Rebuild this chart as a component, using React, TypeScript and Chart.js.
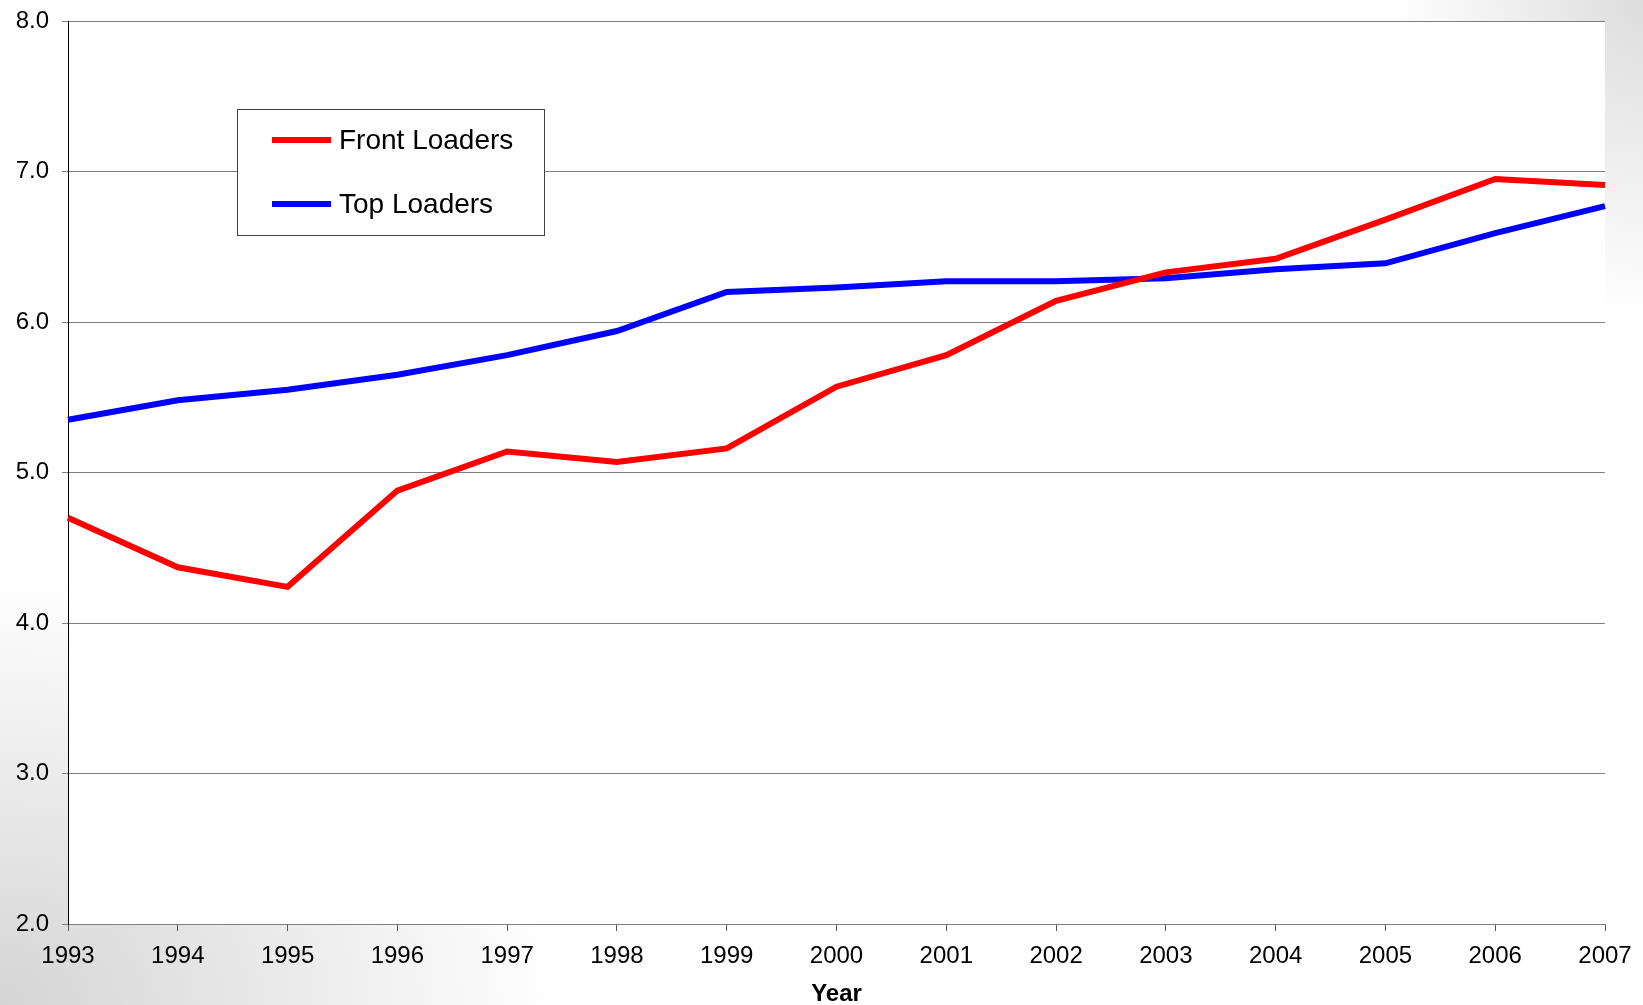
import React, { useEffect, useRef } from "react";
import { Chart, registerables } from "chart.js";

Chart.register(...registerables);

const years = ["1993", "1994", "1995", "1996", "1997", "1998", "1999", "2000", "2001", "2002", "2003", "2004", "2005", "2006", "2007"];
const frontLoaders = [4.70, 4.37, 4.24, 4.88, 5.14, 5.07, 5.16, 5.57, 5.78, 6.14, 6.33, 6.42, 6.68, 6.95, 6.91];
const topLoaders = [5.35, 5.48, 5.55, 5.65, 5.78, 5.94, 6.20, 6.23, 6.27, 6.27, 6.29, 6.35, 6.39, 6.59, 6.77];
const seriesNames = ["Front Loaders", "Top Loaders"];
const seriesColors = ["#ff0000", "#0000ff"];
const yMin = 2;
const yMax = 8;
const axisTitle = "Year";

const FONT = "'Liberation Sans', Arial, sans-serif";

const plotBackground = {
  id: "plotBackground",
  beforeDraw(chart: any) {
    const { ctx, chartArea } = chart;
    ctx.save();
    ctx.fillStyle = "#ffffff";
    ctx.fillRect(chartArea.left, chartArea.top, chartArea.right - chartArea.left, chartArea.bottom - chartArea.top);
    ctx.restore();
  },
};

const boxLegend = {
  id: "boxLegend",
  afterDraw(chart: any) {
    const { ctx } = chart;
    const bx = 237.5, by = 109.5, bw = 307, bh = 126;
    ctx.save();
    ctx.fillStyle = "#ffffff";
    ctx.fillRect(bx, by, bw, bh);
    ctx.strokeStyle = "#404040";
    ctx.lineWidth = 1;
    ctx.strokeRect(bx, by, bw, bh);
    ctx.font = `28px ${FONT}`;
    ctx.textBaseline = "middle";
    ctx.textAlign = "left";
    chart.data.datasets.forEach((ds: any, i: number) => {
      const y = 140 + i * 64;
      ctx.strokeStyle = ds.borderColor;
      ctx.lineWidth = 6;
      ctx.beginPath();
      ctx.moveTo(272, y);
      ctx.lineTo(331, y);
      ctx.stroke();
      ctx.fillStyle = "#000000";
      ctx.fillText(ds.label, 339, y + 1);
    });
    ctx.restore();
  },
};

export default function App() {
  const ref = useRef<HTMLCanvasElement | null>(null);

  useEffect(() => {
    document.body.style.margin = "0";
    const canvas = ref.current;
    if (!canvas) return;
    const chart = new Chart(canvas, {
      type: "line",
      data: {
        labels: years,
        datasets: [
          {
            label: seriesNames[0],
            data: frontLoaders,
            borderColor: seriesColors[0],
            backgroundColor: seriesColors[0],
            borderWidth: 6,
            pointRadius: 0,
            tension: 0,
            fill: false,
          },
          {
            label: seriesNames[1],
            data: topLoaders,
            borderColor: seriesColors[1],
            backgroundColor: seriesColors[1],
            borderWidth: 6,
            pointRadius: 0,
            tension: 0,
            fill: false,
          },
        ],
      },
      options: {
        animation: false,
        responsive: false,
        maintainAspectRatio: false,
        layout: { autoPadding: false, padding: { top: 21, right: 38, bottom: 0, left: 0 } },
        plugins: {
          legend: { display: false },
          tooltip: { enabled: false },
          title: { display: false },
        },
        scales: {
          x: {
            type: "category",
            offset: false,
            grid: {
              drawOnChartArea: false,
              drawTicks: true,
              tickLength: 7,
              color: "#555555",
            },
            border: { display: true, color: "#7f7f7f", width: 1 },
            ticks: {
              color: "#000000",
              font: { family: FONT, size: 24 },
              padding: 11,
              maxRotation: 0,
              autoSkip: false,
            },
            title: {
              display: true,
              text: axisTitle,
              color: "#000000",
              font: { family: FONT, size: 24, weight: "bold", lineHeight: 0.9 },
              padding: { top: 0, bottom: 0 },
            },
            afterFit(scale: any) {
              scale.height = 81;
              scale.paddingLeft = 0;
              scale.paddingRight = 0;
            },
          },
          y: {
            min: yMin,
            max: yMax,
            grid: {
              color: "#7f7f7f",
              lineWidth: 1,
              drawTicks: true,
              tickLength: 6,
            },
            border: { display: true, color: "#000000", width: 1 },
            ticks: {
              stepSize: 1,
              color: "#000000",
              font: { family: FONT, size: 24 },
              padding: 13,
              callback: (v: any) => Number(v).toFixed(1),
            },
            afterFit(scale: any) {
              scale.width = 68;
              scale.paddingTop = 0;
              scale.paddingBottom = 0;
            },
          },
        },
      },
      plugins: [plotBackground, boxLegend],
    });
    return () => chart.destroy();
  }, []);

  return (
    <div
      style={{
        position: "fixed",
        left: 0,
        top: 0,
        width: 1643,
        height: 1005,
        background:
          "radial-gradient(ellipse 250px 320px at 100% 0%, rgba(215,215,215,0.85), rgba(255,255,255,0) 100%), radial-gradient(ellipse 560px 430px at 0% 100%, rgba(208,208,208,0.9), rgba(255,255,255,0) 100%), #ffffff",
      }}
    >
      <canvas ref={ref} width={1643} height={1005} style={{ display: "block" }} />
    </div>
  );
}
